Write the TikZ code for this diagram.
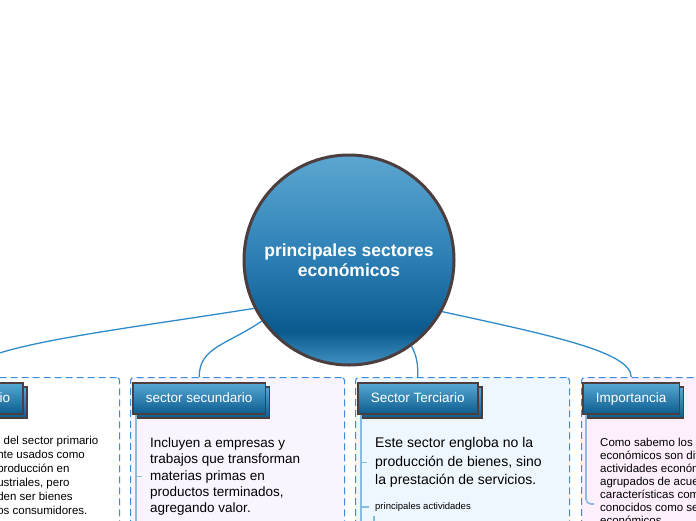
\documentclass[tikz,border=0pt]{standalone}
\usepackage{fontspec}
\setmainfont{Liberation Sans}
\usetikzlibrary{calc,positioning,shadows}
\definecolor{HubTop}{RGB}{92,167,209}
\definecolor{HubMid}{RGB}{43,126,180}
\definecolor{HubDeep}{RGB}{10,90,142}
\definecolor{HubFoot}{RGB}{66,145,194}
\definecolor{RimBrown}{RGB}{76,62,62}
\definecolor{LinkBlue}{RGB}{46,139,201}
\definecolor{DashBlue}{RGB}{58,140,222}
\definecolor{StemBlue}{RGB}{135,188,226}
\definecolor{TitleTop}{RGB}{88,168,212}
\definecolor{TitleLow}{RGB}{12,92,143}
\definecolor{PanelLilac}{RGB}{249,244,253}
\definecolor{PanelSky}{RGB}{239,247,254}
\definecolor{PanelPink}{RGB}{253,239,251}
\pgfdeclareverticalshading{hubshade}{100bp}{color(0bp)=(HubFoot); color(25bp)=(HubFoot); color(33bp)=(HubDeep); color(50bp)=(HubMid); color(75bp)=(HubTop); color(100bp)=(HubTop)}

\begin{document}
\begin{tikzpicture}[x=1pt,y=-1pt,
    hub/.style={circle,draw=RimBrown,line width=3pt,shade,shading=hubshade,minimum size=210pt,inner sep=0pt,
      text=white,align=center,font=\bfseries\fontsize{17.5}{20.5}\selectfont},
    panel/.style={draw=DashBlue,line width=1.1pt,dash pattern=on 7pt off 4pt,rounded corners=3pt,
      minimum width=214pt,minimum height=200pt,anchor=north west},
    topic/.style={draw=RimBrown,line width=1.8pt,top color=TitleTop,bottom color=TitleLow,text=white,
      minimum height=31pt,text height=9.8pt,text depth=2.6pt,inner xsep=13pt,anchor=north west,
      font=\fontsize{13.5}{16}\selectfont,
      copy shadow={shadow xshift=4pt,shadow yshift=-4pt,draw=RimBrown,line width=1.8pt,top color=TitleTop,bottom color=TitleLow}},
    link/.style={LinkBlue,line width=1.3pt},
    stem/.style={StemBlue,line width=1.6pt},
    note/.style={anchor=north west,inner sep=0pt,align=left}]
  \useasboundingbox (0,0) rectangle (696,520);

  % columns
  \node[panel,fill=white] (f1) at (-95,377) {};
  \node[panel,fill=PanelLilac] (f2) at (130,377) {};
  \node[panel,fill=PanelSky] (f3) at (355,377) {};
  \node[panel,fill=PanelPink] (f4) at (581,377) {};

  \node[topic,anchor=north east] (t1) at (24,382) {Sector Primario};
  \node[topic] (t2) at (132,382) {sector secundario};
  \node[topic] (t3) at (357,382) {Sector Terciario};
  \node[topic] (t4) at (582,382) {Importancia};

  % texts
  \node[note,font=\fontsize{11.5}{14}\selectfont] (x1) at (3.5,435.6)
    {\llap{Los productos }del sector primario\\ \llap{son generalmen}te usados como\\
     \llap{insumos de la p}roducción en\\ \llap{procesos indu}striales, pero\\
     \llap{también pued}en ser bienes\\ \llap{finales para lo}s consumidores.};
  \node[note,font=\fontsize{13.5}{16.25}\selectfont] (x2) at (150,437.6)
    {Incluyen a empresas y\\trabajos que transforman\\materias primas en\\productos terminados,\\agregando valor.};
  \node[note,font=\fontsize{14}{18.5}\selectfont] (x3) at (375,437.4)
    {Este sector engloba no la\\producción de bienes, sino\\la prestación de servicios.};
  \node[note,anchor=west,font=\fontsize{9.5}{11}\selectfont] (a3) at (375,507) {principales actividades};
  \node[note,font=\fontsize{11.5}{13}\selectfont] (x4) at (600,437.6)
    {Como sabemo los sectores\\económicos son diferentes\\actividades económicas\\agrupados de acuerdo a sus\\características comunes,\\conocidos como sectores\\económicos.};

  % stems
  \draw[stem] ([xshift=4pt]t2.south west) -- ++(0,120);
  \draw[stem] ([xshift=4pt]t2.south west |- x2.west) -- ([xshift=-8pt]x2.west);
  \draw[stem] ([xshift=4pt]t3.south west) -- ++(0,120);
  \draw[stem] ([xshift=4pt]t3.south west |- x3.west) -- ([xshift=-8pt]x3.west);
  \draw[stem] ([xshift=4pt]t3.south west |- a3.west) -- ([xshift=-6pt]a3.west);
  \draw[stem] ([shift={(-1pt,-4pt)}]a3.south west) -- ++(0,12);
  \coordinate (k4) at (594,504);
  \draw[stem,rounded corners=5pt] ([xshift=4pt]t4.south west) |- (k4);

  \node[hub] (hub) at (349,260) {principales sectores\\económicos};

  % links
  \draw[link] (hub.207) .. controls +(-150,24) and +(0,-30) .. (t1 |- f1.north);
  \draw[link] (hub.215) .. controls +(-35,24) and +(0,-30) .. (t2 |- f2.north);
  \draw[link] (hub.306) .. controls +(6,12) and +(0,-12) .. (t3 |- f3.north);
  \draw[link] (hub.331) .. controls +(110,24) and +(0,-25) .. (t4 |- f4.north);
\end{tikzpicture}
\end{document}
